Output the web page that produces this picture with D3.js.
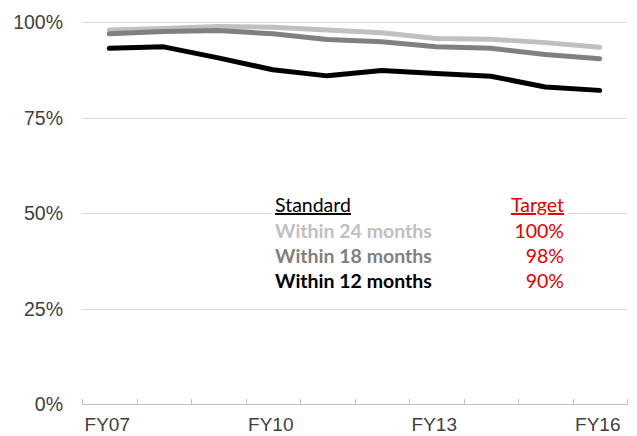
<!DOCTYPE html>
<html>
<head>
<meta charset="utf-8">
<script src="https://cdn.jsdelivr.net/npm/d3@7"></script>
<style>
  body { margin: 0; background: #fff; }
  svg { display: block; }
</style>
</head>
<body>
<svg id="chart" width="637" height="436"></svg>
<script>
const years = ["FY07","FY08","FY09","FY10","FY11","FY12","FY13","FY14","FY15","FY16"];
const shownYears = ["FY07","FY10","FY13","FY16"];
const within24 = [97.9, 98.3, 98.8, 98.6, 97.9, 97.2, 95.7, 95.5, 94.6, 93.4];
const within18 = [96.9, 97.5, 97.8, 96.9, 95.4, 94.8, 93.5, 93.1, 91.5, 90.4];
const within12 = [93.1, 93.5, 90.6, 87.5, 85.9, 87.3, 86.5, 85.8, 83.0, 82.1];
const yTicks = [0, 25, 50, 75, 100];
const standards = ["Within 24 months", "Within 18 months", "Within 12 months"];
const targets = ["100%", "98%", "90%"];
const seriesColors = ["#c0c0c0", "#808080", "#000000"];

const svg = d3.select("#chart");
const plotLeft = 82, plotRight = 627, plotTop = 22, plotBottom = 404;

const x = d3.scaleBand().domain(years).range([plotLeft, plotRight]);
const y = d3.scaleLinear([0, 100], [plotBottom, plotTop]);

// gridlines
svg.append("g").selectAll("line")
  .data(yTicks.filter(d => d > 0))
  .join("line")
    .attr("x1", plotLeft).attr("x2", plotRight)
    .attr("y1", d => Math.round(y(d)) + 0.5).attr("y2", d => Math.round(y(d)) + 0.5)
    .attr("stroke", "#d9d9d9").attr("stroke-width", 1);

// y labels
svg.append("g").selectAll("text")
  .data(yTicks)
  .join("text")
    .attr("x", 63).attr("y", d => y(d) + 7)
    .attr("text-anchor", "end")
    .attr("font-family", "Liberation Sans, Arial, sans-serif")
    .attr("font-size", "19.5px")
    .attr("fill", "#404040")
    .text(d => d + "%");

// x axis line + boundary ticks
const boundaries = years.map(d => x(d)).concat([x.range()[1]]);
const xAxis = svg.append("g");
xAxis.append("line")
  .attr("x1", plotLeft).attr("x2", plotRight)
  .attr("y1", plotBottom + 0.5).attr("y2", plotBottom + 0.5)
  .attr("stroke", "#bfbfbf");
xAxis.selectAll(".tick")
  .data(boundaries)
  .join("line")
    .attr("class", "tick")
    .attr("x1", d => Math.round(d) + 0.5).attr("x2", d => Math.round(d) + 0.5)
    .attr("y1", plotBottom - 5).attr("y2", plotBottom + 0.5)
    .attr("stroke", "#bfbfbf");
xAxis.selectAll("text")
  .data(shownYears)
  .join("text")
    .attr("x", d => x(d) + x.bandwidth() / 2 - 2)
    .attr("y", 431)
    .attr("text-anchor", "middle")
    .attr("font-family", "Liberation Sans, Arial, sans-serif")
    .attr("font-size", "19px")
    .attr("fill", "#404040")
    .text(d => d);

// lines
const line = d3.line()
  .x((d, i) => x(years[i]) + x.bandwidth() / 2)
  .y(d => y(d));

svg.append("g").selectAll("path")
  .data([within24, within18, within12])
  .join("path")
    .attr("fill", "none")
    .attr("stroke", (d, i) => seriesColors[i])
    .attr("stroke-width", 5)
    .attr("stroke-linecap", "round")
    .attr("stroke-linejoin", "round")
    .attr("d", line);

// legend table
const legend = svg.append("g");
legend.append("rect")
  .attr("x", 271).attr("y", 194).attr("width", 297).attr("height", 100)
  .attr("fill", "#fff");

const font = "Lato, Calibri, sans-serif";
const fontSize = "19.5px";
legend.append("text")
  .attr("x", 275).attr("y", 212)
  .attr("font-family", font).attr("font-size", fontSize)
  .attr("fill", "#000")
  .attr("text-decoration", "underline")
  .text("Standard");
legend.append("text")
  .attr("x", 564).attr("y", 212)
  .attr("text-anchor", "end")
  .attr("font-family", font).attr("font-size", fontSize)
  .attr("fill", "#e00000")
  .attr("text-decoration", "underline")
  .text("Target");

legend.selectAll(".std")
  .data(standards)
  .join("text")
    .attr("class", "std")
    .attr("x", 275).attr("y", (d, i) => 238 + i * 25)
    .attr("font-family", font).attr("font-size", fontSize)
    .attr("font-weight", "bold")
    .attr("fill", (d, i) => seriesColors[i])
    .text(d => d);

legend.selectAll(".tgt")
  .data(targets)
  .join("text")
    .attr("class", "tgt")
    .attr("x", 564).attr("y", (d, i) => 238 + i * 25)
    .attr("text-anchor", "end")
    .attr("font-family", font).attr("font-size", fontSize)
    .attr("fill", "#e00000")
    .text(d => d);
</script>
</body>
</html>
